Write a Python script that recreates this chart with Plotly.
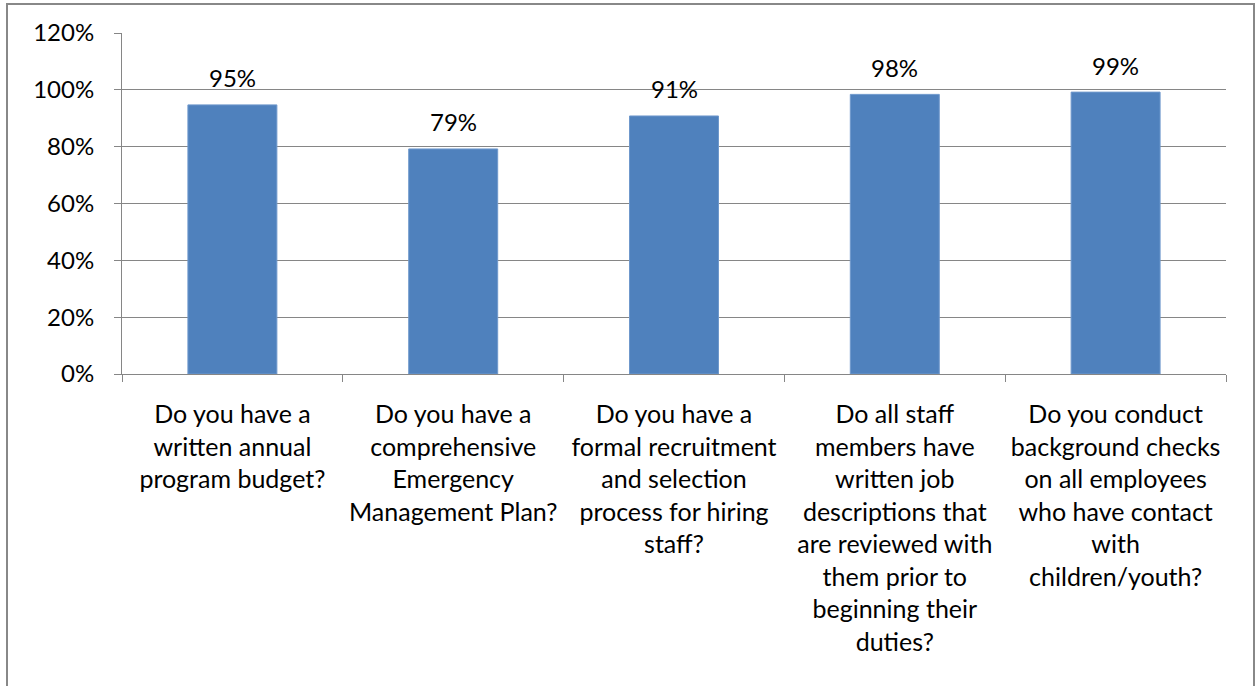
import plotly.graph_objects as go

categories = [
    "Do you have a<br>written annual<br>program budget?",
    "Do you have a<br>comprehensive<br>Emergency<br>Management Plan?",
    "Do you have a<br>formal recruitment<br>and selection<br>process for hiring<br>staff?",
    "Do all staff<br>members have<br>written job<br>descriptions that<br>are reviewed with<br>them prior to<br>beginning their<br>duties?",
    "Do you conduct<br>background checks<br>on all employees<br>who have contact<br>with<br>children/youth?",
]
values = [0.947, 0.792, 0.908, 0.984, 0.992]
y_ticks = [0, 0.2, 0.4, 0.6, 0.8, 1.0, 1.2]

FONT = "Lato, Liberation Sans, sans-serif"
FS = 24
GRID = "#868686"

W, H = 1257, 686
L, R, T, B = 122, 31, 33, 312

fig = go.Figure()
fig.add_trace(go.Bar(
    x=categories, y=values,
    marker=dict(color="#4F81BD", line=dict(color="#6F98CC", width=1)),
    hoverinfo="skip",
))

for c, v in zip(categories, values):
    fig.add_annotation(x=c, y=v, text=f"{v:.0%}", showarrow=False,
                       yanchor="middle", yshift=27,
                       font=dict(family=FONT, size=FS, color="#000000"))

pw = W - L - R
ph = H - T - B
# chart border (outer frame)
fig.add_shape(type="rect", xref="paper", yref="paper",
              x0=(7 - L) / pw, x1=(1254 - L) / pw,
              y0=-(H + 20 - T - ph) / ph, y1=1 + (T - 4) / ph,
              line=dict(color="#888888", width=2), layer="below")

fig.update_layout(
    width=W, height=H,
    margin=dict(l=L, r=R, t=T, b=B, pad=0),
    paper_bgcolor="white", plot_bgcolor="white",
    bargap=0.597,
    showlegend=False,
    font=dict(family=FONT, size=FS, color="#000000"),
    xaxis=dict(
        type="category",
        showline=True, linecolor=GRID, linewidth=1,
        ticks="outside", ticklen=7, tickcolor=GRID, tickwidth=1,
        tickson="boundaries",
        showgrid=False,
        tickangle=0,
        ticklabelstandoff=18,
        tickfont=dict(family=FONT, size=25, color="#000000"),
    ),
    yaxis=dict(
        range=[0, 1.2], tickvals=y_ticks, tickformat=".0%",
        showline=True, linecolor=GRID, linewidth=1,
        ticks="outside", ticklen=7, tickcolor=GRID, tickwidth=1,
        showgrid=True, gridcolor=GRID, gridwidth=1,
        zeroline=False,
        ticklabelstandoff=15,
        tickfont=dict(family=FONT, size=FS, color="#000000"),
    ),
)

fig.write_html(
    "out.html",
    config={"displayModeBar": False},
    post_script="document.body.style.margin='0px';document.body.style.overflow='hidden';",
)
